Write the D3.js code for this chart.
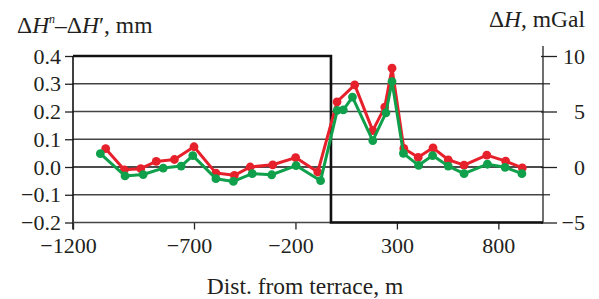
<!DOCTYPE html>
<html lang="en">
<head>
    <meta charset="utf-8">
    <title>Dist. from terrace</title>
    <style>
        body { margin: 0; background: #fff; }
        svg text { font-family: "Liberation Serif", "DejaVu Serif", serif; fill: #231f20; }
    </style>
    <script src="https://d3js.org/d3.v7.min.js"></script>
</head>
<body>
<svg></svg>
<script>
    const width = 599;
    const height = 299;

    // x ticks and axis ticks
    const xTicks = [-1200, -700, -200, 300, 800];
    const mmTicks = [0.4, 0.3, 0.2, 0.1, 0.0, -0.1, -0.2];
    const mGalTicks = [10, 5, 0, -5];
    const mGalMinor = [7.5, 2.5, -2.5];

    // terrace step profile (mm axis)
    const terraceDist = [-1200, -25, -25, 1020];
    const terraceVals = [0.4, 0.4, -0.2, -0.2];

    // red series, mm
    const redDist = [-1065, -988, -920, -856, -781, -700, -592, -501, -423, -312, -199, -90,
        5, 92, 181, 240, 276, 334, 405, 478, 553, 631, 743, 836, 918];
    const redVals = [0.066, -0.010, -0.006, 0.020, 0.027, 0.073, -0.022, -0.030, 0.000, 0.008, 0.034, -0.018,
        0.235, 0.296, 0.131, 0.216, 0.356, 0.067, 0.035, 0.069, 0.026, 0.007, 0.043, 0.021, -0.003];

    // green series, mGal
    const greenDist = [-1087, -985, -910, -827, -753, -705, -592, -506, -413, -317, -197, -76,
        6, 36, 81, 181, 246, 276, 332, 407, 476, 553, 631, 746, 833, 916];
    const greenVals = [1.2, -0.8, -0.68, -0.1, 0.08, 1.03, -1.05, -1.3, -0.6, -0.7, 0.13, -1.23,
        5.1, 5.15, 6.3, 2.38, 4.88, 7.7, 1.23, 0.15, 1.03, 0.08, -0.6, 0.25, -0.03, -0.6];

    const svg = d3.select('svg').attr('width', width).attr('height', height);

    const x = d3.scaleLinear()
        .domain([-1200, -700, 1020])
        .range([73, 194, 543]);
    const yL = d3.scaleLinear().domain([-0.2, 0.4]).range([222.5, 56]);
    const yR = d3.scaleLinear().domain([-5, 10]).range([222.5, 56]);

    const red = '#e6212c';
    const green = '#10a04c';
    const tickFont = '22px';
    const titleFont = '23.5px';

    // gridlines
    svg.append('g')
        .selectAll('line')
        .data(mmTicks.slice(1, -1))
        .join('line')
        .attr('x1', x(-1200)).attr('x2', x(1020))
        .attr('y1', d => yL(d)).attr('y2', d => yL(d))
        .attr('stroke', d => d === 0 ? '#111' : '#444')
        .attr('stroke-width', 1.4);

    // left axis
    const leftAxis = d3.axisLeft(yL)
        .tickValues(mmTicks)
        .tickSize(8)
        .tickPadding(4)
        .tickFormat(d => d3.format('.1f')(d).replace('-', '\u2212'));
    const gl = svg.append('g').attr('transform', `translate(${x(-1200)},0)`).call(leftAxis);
    gl.select('.domain').remove();
    gl.selectAll('.tick line').attr('stroke', '#222').attr('stroke-width', 1.3);
    gl.selectAll('.tick text').style('font-size', tickFont).attr('fill', '#231f20');
    svg.append('line')
        .attr('x1', x(-1200)).attr('x2', x(-1200))
        .attr('y1', yL(0.4)).attr('y2', yL(-0.2) + 7)
        .attr('stroke', '#111').attr('stroke-width', 1.6);

    // bottom axis
    const bottomAxis = d3.axisBottom(x)
        .tickValues(xTicks)
        .tickSize(7)
        .tickPadding(8)
        .tickFormat(d => String(d).replace('-', '\u2212'));
    const gb = svg.append('g').attr('transform', `translate(0,${yL(-0.2)})`).call(bottomAxis);
    gb.select('.domain').remove();
    gb.selectAll('.tick line').attr('stroke', '#222').attr('stroke-width', 1.3);
    gb.selectAll('.tick text').style('font-size', tickFont).attr('fill', '#231f20')
        .attr('dx', d => d < 0 ? -5 : 0);
    svg.append('line')
        .attr('x1', x(-1200)).attr('x2', x(1020))
        .attr('y1', yL(-0.2)).attr('y2', yL(-0.2))
        .attr('stroke', '#444').attr('stroke-width', 1.4);

    // right axis
    const rightAxis = d3.axisRight(yR)
        .tickValues(mGalTicks)
        .tickSize(14)
        .tickPadding(8)
        .tickFormat(d => String(d).replace('-', '\u2212'));
    const gr = svg.append('g').attr('transform', `translate(${x(1020)},0)`).call(rightAxis);
    gr.select('.domain').remove();
    gr.selectAll('.tick line').attr('stroke', '#222').attr('stroke-width', 1.3).attr('x1', -2);
    gr.selectAll('.tick text').style('font-size', tickFont).attr('fill', '#231f20')
        .attr('text-anchor', 'end').attr('x', 42);
    gr.selectAll('.minor')
        .data(mGalMinor)
        .join('line')
        .attr('class', 'minor')
        .attr('x1', 0).attr('x2', 7)
        .attr('y1', d => yR(d)).attr('y2', d => yR(d))
        .attr('stroke', '#444').attr('stroke-width', 1.4);
    svg.append('line')
        .attr('x1', x(1020)).attr('x2', x(1020))
        .attr('y1', yR(10) - 10).attr('y2', yR(-5))
        .attr('stroke', '#222').attr('stroke-width', 1.3);

    // terrace step
    const terraceLine = d3.line()
        .x((d, i) => x(terraceDist[i]))
        .y(d => yL(d));
    svg.append('path')
        .attr('d', terraceLine(terraceVals))
        .attr('fill', 'none')
        .attr('stroke', '#111')
        .attr('stroke-width', 2.6);

    // series
    function drawSeries(dist, vals, yScale, color) {
        const pts = dist.map((d, i) => [x(d), yScale(vals[i])]);
        const g = svg.append('g');
        g.append('path')
            .attr('d', d3.line()(pts))
            .attr('fill', 'none')
            .attr('stroke', color)
            .attr('stroke-width', 3)
            .attr('stroke-linejoin', 'round');
        g.selectAll('circle')
            .data(pts)
            .join('circle')
            .attr('cx', d => d[0])
            .attr('cy', d => d[1])
            .attr('r', 4.4)
            .attr('fill', color);
    }
    drawSeries(redDist, redVals, yL, red);
    drawSeries(greenDist, greenVals, yR, green);

    // titles
    const tl = svg.append('text').attr('x', 17).attr('y', 33).style('font-size', titleFont);
    tl.append('tspan').text('\u0394');
    tl.append('tspan').style('font-style', 'italic').text('H');
    tl.append('tspan').style('font-style', 'italic').style('font-size', '12px').attr('dy', -10).text('n');
    tl.append('tspan').attr('dy', 10).text('\u2013\u0394');
    tl.append('tspan').style('font-style', 'italic').text('H');
    tl.append('tspan').text('\u2032, mm');

    const tr = svg.append('text').attr('x', 585).attr('y', 27)
        .attr('text-anchor', 'end').style('font-size', titleFont);
    tr.append('tspan').text('\u0394');
    tr.append('tspan').style('font-style', 'italic').text('H');
    tr.append('tspan').text(', mGal');

    svg.append('text')
        .attr('x', 305).attr('y', 294)
        .attr('text-anchor', 'middle')
        .style('font-size', titleFont)
        .text('Dist. from terrace, m');
</script>
</body>
</html>
